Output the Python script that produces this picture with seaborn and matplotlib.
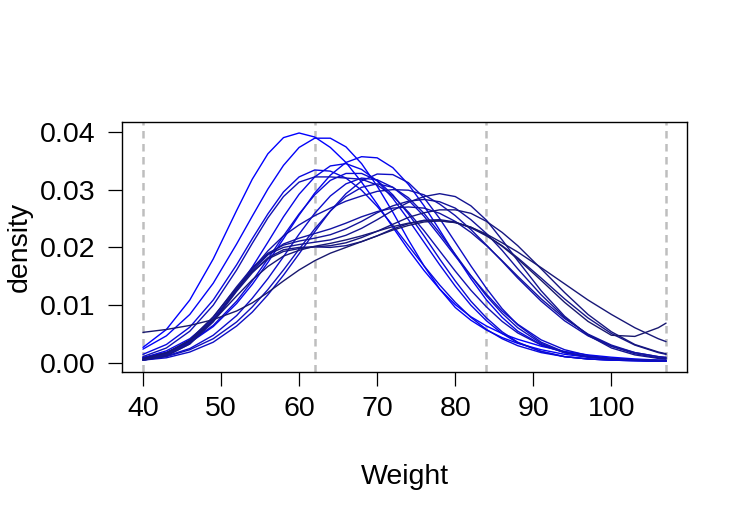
import numpy as np
import pandas as pd
import matplotlib
matplotlib.use("Agg")
import matplotlib.pyplot as plt
import seaborn as sns

weight = [40, 43, 46, 49, 52, 54, 56, 58, 60, 62, 64, 66, 68, 70, 72, 74, 76, 78, 80, 82, 84, 86, 88, 91, 94, 97, 100, 103, 106, 107]

# density curves, brightest (first) to darkest (last)
d01 = [0.0027, 0.0058, 0.0109, 0.0180, 0.0264, 0.0318, 0.0362, 0.0390, 0.0398, 0.0391, 0.0373, 0.0347, 0.0313, 0.0275, 0.0235, 0.0196, 0.0160, 0.0128, 0.0101, 0.0080, 0.0064, 0.0051, 0.0041, 0.0029, 0.0020, 0.0014, 0.0010, 0.0007, 0.0005, 0.0005]
d02 = [0.0024, 0.0047, 0.0084, 0.0138, 0.0206, 0.0254, 0.0301, 0.0342, 0.0373, 0.0389, 0.0389, 0.0374, 0.0345, 0.0306, 0.0261, 0.0213, 0.0168, 0.0128, 0.0096, 0.0074, 0.0057, 0.0044, 0.0034, 0.0023, 0.0015, 0.0010, 0.0007, 0.0005, 0.0004, 0.0004]
d03 = [0.0009, 0.0018, 0.0035, 0.0063, 0.0103, 0.0136, 0.0174, 0.0215, 0.0256, 0.0294, 0.0325, 0.0347, 0.0357, 0.0355, 0.0338, 0.0309, 0.0272, 0.0230, 0.0187, 0.0146, 0.0109, 0.0079, 0.0055, 0.0032, 0.0018, 0.0011, 0.0007, 0.0005, 0.0004, 0.0004]
d04 = [0.0009, 0.0021, 0.0042, 0.0076, 0.0126, 0.0166, 0.0209, 0.0253, 0.0292, 0.0322, 0.0341, 0.0345, 0.0335, 0.0315, 0.0285, 0.0248, 0.0209, 0.0170, 0.0133, 0.0100, 0.0073, 0.0051, 0.0035, 0.0020, 0.0011, 0.0007, 0.0005, 0.0004, 0.0003, 0.0003]
d05 = [0.0015, 0.0032, 0.0062, 0.0109, 0.0170, 0.0215, 0.0258, 0.0296, 0.0322, 0.0334, 0.0332, 0.0320, 0.0299, 0.0271, 0.0238, 0.0203, 0.0168, 0.0135, 0.0105, 0.0079, 0.0058, 0.0042, 0.0030, 0.0018, 0.0011, 0.0007, 0.0005, 0.0004, 0.0003, 0.0003]
d06 = [0.0009, 0.0018, 0.0036, 0.0065, 0.0107, 0.0142, 0.0180, 0.0220, 0.0258, 0.0291, 0.0316, 0.0328, 0.0328, 0.0316, 0.0291, 0.0258, 0.0220, 0.0180, 0.0142, 0.0107, 0.0078, 0.0054, 0.0036, 0.0020, 0.0011, 0.0007, 0.0005, 0.0004, 0.0003, 0.0003]
d07 = [0.0006, 0.0012, 0.0025, 0.0048, 0.0082, 0.0112, 0.0146, 0.0184, 0.0223, 0.0259, 0.0289, 0.0310, 0.0320, 0.0317, 0.0304, 0.0282, 0.0254, 0.0220, 0.0185, 0.0151, 0.0119, 0.0090, 0.0067, 0.0040, 0.0023, 0.0013, 0.0008, 0.0005, 0.0004, 0.0004]
d08 = [0.0005, 0.0009, 0.0019, 0.0036, 0.0064, 0.0088, 0.0118, 0.0152, 0.0189, 0.0227, 0.0263, 0.0293, 0.0315, 0.0327, 0.0326, 0.0312, 0.0286, 0.0250, 0.0209, 0.0168, 0.0129, 0.0094, 0.0066, 0.0036, 0.0019, 0.0011, 0.0007, 0.0005, 0.0004, 0.0004]
d09 = [0.0005, 0.0011, 0.0023, 0.0042, 0.0071, 0.0097, 0.0127, 0.0161, 0.0197, 0.0232, 0.0263, 0.0288, 0.0304, 0.0310, 0.0304, 0.0286, 0.0259, 0.0225, 0.0188, 0.0151, 0.0116, 0.0086, 0.0061, 0.0034, 0.0018, 0.0010, 0.0007, 0.0005, 0.0004, 0.0004]
d10 = [0.0011, 0.0026, 0.0055, 0.0100, 0.0161, 0.0207, 0.0251, 0.0288, 0.0313, 0.0322, 0.0322, 0.0320, 0.0318, 0.0308, 0.0289, 0.0261, 0.0229, 0.0194, 0.0159, 0.0126, 0.0097, 0.0072, 0.0052, 0.0031, 0.0018, 0.0011, 0.0008, 0.0006, 0.0005, 0.0005]
d11 = [0.0006, 0.0016, 0.0037, 0.0075, 0.0127, 0.0162, 0.0194, 0.0220, 0.0239, 0.0255, 0.0268, 0.0280, 0.0289, 0.0297, 0.0300, 0.0299, 0.0291, 0.0275, 0.0255, 0.0231, 0.0204, 0.0176, 0.0147, 0.0107, 0.0073, 0.0047, 0.0029, 0.0018, 0.0011, 0.0010]
d12 = [0.0005, 0.0014, 0.0035, 0.0074, 0.0126, 0.0159, 0.0187, 0.0206, 0.0216, 0.0224, 0.0232, 0.0242, 0.0253, 0.0262, 0.0268, 0.0270, 0.0268, 0.0259, 0.0245, 0.0226, 0.0203, 0.0177, 0.0150, 0.0111, 0.0077, 0.0050, 0.0031, 0.0018, 0.0011, 0.0009]
d13 = [0.0006, 0.0015, 0.0038, 0.0079, 0.0132, 0.0165, 0.0190, 0.0204, 0.0211, 0.0216, 0.0222, 0.0232, 0.0245, 0.0260, 0.0272, 0.0280, 0.0283, 0.0279, 0.0268, 0.0248, 0.0224, 0.0195, 0.0163, 0.0118, 0.0079, 0.0049, 0.0029, 0.0016, 0.0009, 0.0008]
d14 = [0.0005, 0.0012, 0.0033, 0.0073, 0.0128, 0.0163, 0.0188, 0.0200, 0.0205, 0.0209, 0.0213, 0.0221, 0.0233, 0.0248, 0.0264, 0.0278, 0.0288, 0.0293, 0.0288, 0.0272, 0.0247, 0.0213, 0.0177, 0.0125, 0.0081, 0.0048, 0.0026, 0.0014, 0.0008, 0.0007]
d15 = [0.0005, 0.0013, 0.0033, 0.0071, 0.0124, 0.0156, 0.0182, 0.0196, 0.0200, 0.0201, 0.0200, 0.0203, 0.0210, 0.0220, 0.0232, 0.0241, 0.0247, 0.0248, 0.0244, 0.0234, 0.0220, 0.0203, 0.0182, 0.0147, 0.0111, 0.0078, 0.0051, 0.0031, 0.0018, 0.0015]
d16 = [0.0007, 0.0017, 0.0040, 0.0080, 0.0130, 0.0158, 0.0180, 0.0193, 0.0198, 0.0201, 0.0203, 0.0208, 0.0217, 0.0228, 0.0240, 0.0252, 0.0260, 0.0265, 0.0265, 0.0259, 0.0245, 0.0226, 0.0203, 0.0163, 0.0122, 0.0084, 0.0054, 0.0032, 0.0019, 0.0016]
d17 = [0.0008, 0.0018, 0.0039, 0.0073, 0.0116, 0.0144, 0.0167, 0.0185, 0.0195, 0.0202, 0.0207, 0.0213, 0.0220, 0.0228, 0.0236, 0.0242, 0.0246, 0.0246, 0.0243, 0.0235, 0.0223, 0.0208, 0.0192, 0.0165, 0.0137, 0.0109, 0.0084, 0.0061, 0.0042, 0.0037]
d18 = [0.0053, 0.0058, 0.0065, 0.0075, 0.0090, 0.0104, 0.0122, 0.0142, 0.0161, 0.0177, 0.0190, 0.0200, 0.0210, 0.0220, 0.0230, 0.0238, 0.0244, 0.0246, 0.0243, 0.0235, 0.0221, 0.0202, 0.0180, 0.0143, 0.0105, 0.0072, 0.0048, 0.0046, 0.0061, 0.0069]

curves = [d01, d02, d03, d04, d05, d06, d07, d08, d09, d10,
          d11, d12, d13, d14, d15, d16, d17, d18]

# dashed reference lines
vlines = [40, 62, 84, 107]

rows = []
for i, dens in enumerate(curves):
    for w, d in zip(weight, dens):
        rows.append({"Weight": w, "density": d, "curve": i})
df = pd.DataFrame(rows)

sns.set_style("white")
plt.rcParams["font.family"] = ["Liberation Sans", "DejaVu Sans"]

colors = sns.blend_palette(["#0000FF", "#1010B8", "#18186E"], len(curves))

fig = plt.figure(figsize=(7.5, 5.25), dpi=100)
ax = fig.add_axes([0.1627, 0.2914, 0.7533, 0.4762])

for v in vlines:
    ax.axvline(v, color="#BEBEBE", lw=1.8, ls=(0, (3, 2.2)), zorder=1)

sns.lineplot(data=df, x="Weight", y="density", hue="curve", palette=colors,
             estimator=None, legend=False, lw=1.0, ax=ax, zorder=2)

ax.set_xlim(37.32, 109.68)
ax.set_ylim(-0.00156, 0.0417)
ax.set_xticks([40, 50, 60, 70, 80, 90, 100])
ax.set_yticks([0.00, 0.01, 0.02, 0.03, 0.04])
ax.set_yticklabels(["0.00", "0.01", "0.02", "0.03", "0.04"])

for s in ax.spines.values():
    s.set_color("black")
    s.set_linewidth(1.0)
ax.tick_params(axis="both", direction="out", length=10, width=0.9,
               bottom=True, left=True,
               color="black", labelsize=20.5, labelcolor="black")
ax.tick_params(axis="x", pad=7)
ax.tick_params(axis="y", pad=9)

ax.set_xlabel("Weight", fontsize=20.5, va="center", color="black")
ax.set_ylabel("density", fontsize=20.5, va="center", color="black")
ax.xaxis.set_label_coords(0.5, -0.42)
ax.yaxis.set_label_coords(-0.1805, 0.5)

fig.savefig("out.png", dpi=100)
